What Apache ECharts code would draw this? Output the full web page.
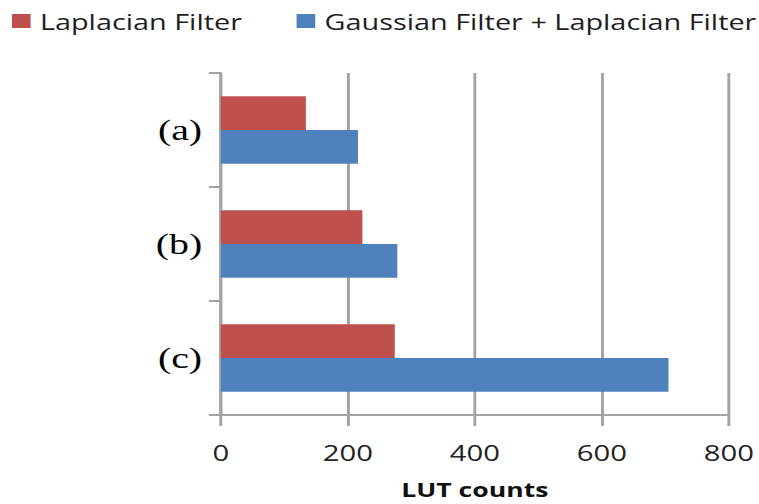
<!DOCTYPE html>
<html><head><meta charset="utf-8">
<script src="https://cdn.jsdelivr.net/npm/echarts@6/dist/echarts.min.js"></script>
<style>
html,body{margin:0;padding:0;background:#fff;overflow:hidden}
#wrap{width:759px;height:504px;overflow:hidden}
#c{width:571px;height:504px;transform:scaleX(1.33);transform-origin:0 0}
</style>
</head><body><div id="wrap"><div id="c"></div></div>
<script>
const categories = ['(a)', '(b)', '(c)'];
const laplacian = [134, 223, 274];
const gaussLaplacian = [216, 278, 705];
const xTicks = { min: 0, max: 800, interval: 200 };
const seriesNames = ['Laplacian Filter', 'Gaussian Filter + Laplacian Filter'];

const axisGray = '#a3a3a3';
const legendText = { fontFamily: 'Open Sans', fontSize: 21.7, color: '#1e1e1e', lineHeight: 21, padding: [0, 0, 0, 2] };
const chart = echarts.init(document.getElementById('c'), null, { renderer: 'svg' });
chart.setOption({
  animation: false,
  legend: [
    { top: 10, left: 9, padding: 0, itemWidth: 14, itemHeight: 14, icon: 'rect', textStyle: legendText, data: [seriesNames[0]] },
    { top: 10, left: 223, padding: 0, itemWidth: 14, itemHeight: 14, icon: 'rect', textStyle: legendText, data: [seriesNames[1]] }
  ],
  grid: { left: 166, right: 23, top: 73, bottom: 87 },
  xAxis: {
    type: 'value', min: xTicks.min, max: xTicks.max, interval: xTicks.interval,
    name: 'LUT counts', nameLocation: 'middle', nameGap: 64,
    nameTextStyle: { fontFamily: 'Open Sans', fontWeight: 'bold', fontSize: 20, color: '#111' },
    axisLine: { show: true, lineStyle: { color: axisGray, width: 2 } },
    axisTick: { show: true, length: 11, lineStyle: { color: axisGray, width: 2.2 } },
    axisLabel: { fontFamily: 'Open Sans', fontSize: 22, color: '#222', margin: 26 },
    splitLine: { show: true, lineStyle: { color: axisGray, width: 2.2 } }
  },
  yAxis: {
    type: 'category', data: categories, inverse: true,
    axisLine: { show: true, lineStyle: { color: axisGray, width: 2.2 } },
    axisTick: { show: true, length: 9, lineStyle: { color: axisGray, width: 2 } },
    axisLabel: { fontFamily: 'Liberation Serif', fontSize: 30, color: '#000', margin: 14 }
  },
  series: [
    { name: seriesNames[0], type: 'bar', data: laplacian, itemStyle: { color: '#C0504D' }, barGap: '0%', barCategoryGap: '41%' },
    { name: seriesNames[1], type: 'bar', data: gaussLaplacian, itemStyle: { color: '#4F81BD' }, barGap: '0%', barCategoryGap: '41%' }
  ]
});
</script></body></html>
